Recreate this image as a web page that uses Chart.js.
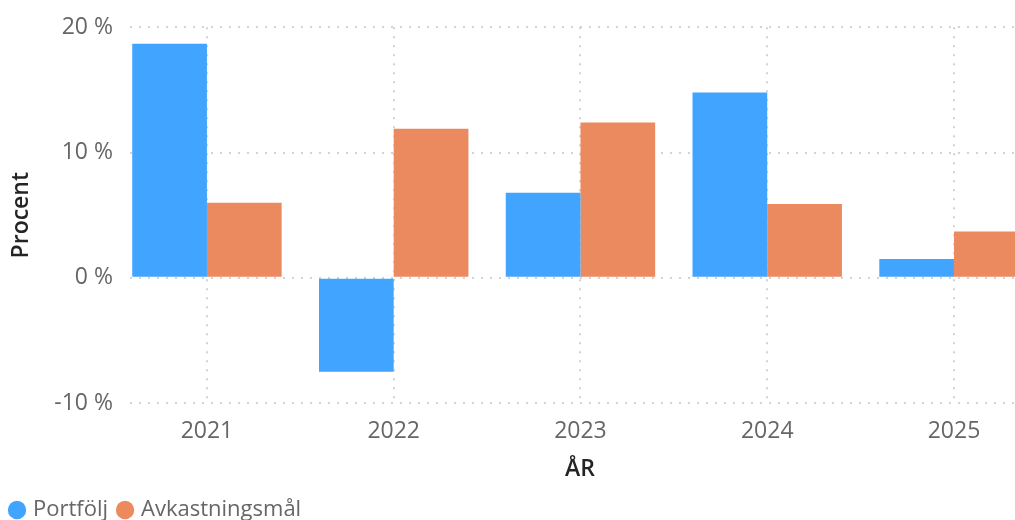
<!DOCTYPE html>
<html>
<head>
<meta charset="utf-8">
<script src="https://cdn.jsdelivr.net/npm/chart.js@4/dist/chart.umd.min.js"></script>
<style>
  html, body { margin: 0; padding: 0; background: #ffffff; overflow: hidden; }
  #wrap { position: relative; width: 1030px; height: 531px; }
</style>
</head>
<body>
<div id="wrap"><canvas id="c"></canvas></div>
<script>
const years = [2021, 2022, 2023, 2024, 2025];
const portfolj = [18.7, -7.5, 6.8, 14.8, 1.5];
const avkastningsmal = [6.0, 11.9, 12.4, 5.9, 3.7];
const seriesNames = ['Portfölj', 'Avkastningsmål'];
const yTicks = [-10, 0, 10, 20];
const xTitle = 'ÅR';
const yTitle = 'Procent';

const FONT = "'Open Sans', 'Noto Sans', sans-serif";
const BORDER = { display: false, dash: [2, 7] };
const GRIDCOLOR = '#d2d2d2';

new Chart(document.getElementById('c'), {
  type: 'bar',
  data: {
    datasets: [
      { label: seriesNames[0], data: years.map((y, i) => ({ x: y, y: portfolj[i] })),
        backgroundColor: '#41A5FF', borderWidth: 0 },
      { label: seriesNames[1], data: years.map((y, i) => ({ x: y, y: avkastningsmal[i] })),
        backgroundColor: '#EB895F', borderWidth: 0 }
    ]
  },
  options: {
    responsive: true,
    maintainAspectRatio: false,
    animation: false,
    categoryPercentage: 0.8,
    barPercentage: 1.0,
    layout: { padding: { top: 20, left: 0, right: 0, bottom: 0 } },
    plugins: {
      tooltip: { enabled: false },
      legend: {
        position: 'bottom',
        align: 'start',
        labels: {
          usePointStyle: true,
          pointStyle: 'circle',
          boxWidth: 10,
          boxHeight: 13,
          padding: 12,
          color: '#666666',
          font: { family: FONT, size: 22 }
        }
      }
    },
    scales: {
      x: {
        type: 'linear',
        offset: false,
        min: 2020.588,
        max: 2025.407,
        border: BORDER,
        grid: { color: GRIDCOLOR, lineWidth: 2, drawTicks: false, offset: false },
        afterFit: (s) => { s.height = 84; },
        ticks: {
          stepSize: 1,
          includeBounds: false,
          padding: 15,
          color: '#666666',
          font: { family: FONT, size: 23 },
          callback: (v) => String(v)
        },
        title: {
          display: true,
          text: xTitle,
          color: '#252423',
          padding: { top: 0, bottom: 4 },
          font: { family: FONT, size: 23, weight: '600' }
        }
      },
      y: {
        min: -10,
        max: 20,
        border: BORDER,
        grid: { color: GRIDCOLOR, lineWidth: 2, drawTicks: false },
        afterFit: (s) => { s.width = 130; },
        afterBuildTicks: (s) => { s.ticks = yTicks.map(v => ({ value: v })); },
        ticks: {
          padding: 17,
          color: '#666666',
          font: { family: FONT, size: 23, lineHeight: 0.9 },
          callback: (v) => v + ' %'
        },
        title: {
          display: true,
          text: yTitle,
          color: '#252423',
          padding: { top: 8, bottom: 4 },
          font: { family: FONT, size: 23, weight: '600' }
        }
      }
    }
  }
});
</script>
</body>
</html>
